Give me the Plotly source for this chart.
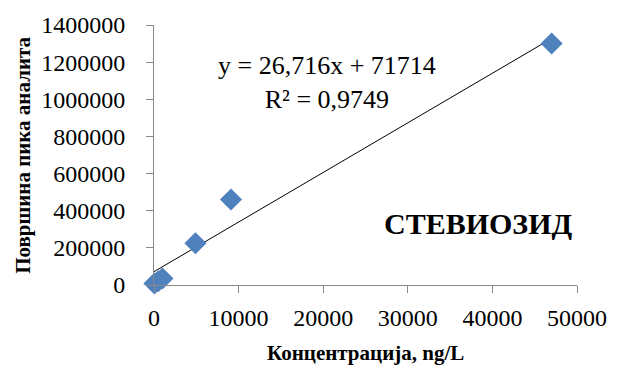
import numpy as np
import plotly.graph_objects as go

# Calibration points: concentration (ng/L) vs. analyte peak area
concentration = [50, 500, 1000, 4900, 9100, 47000]
peak_area = [8000, 20000, 35000, 225000, 460000, 1300000]

# Linear trendline coefficients
slope = 26.716
intercept = 71714
r_squared = 0.9749

x_ticks = [0, 10000, 20000, 30000, 40000, 50000]
y_ticks = [0, 200000, 400000, 600000, 800000, 1000000, 1200000, 1400000]

serif = "Liberation Serif, Times New Roman, serif"

line_x = np.array([0, max(concentration)])
line_y = slope * line_x + intercept

fig = go.Figure()
fig.add_trace(go.Scatter(
    x=line_x, y=line_y, mode="lines",
    line=dict(color="#000000", width=1), showlegend=False, hoverinfo="skip",
))
fig.add_trace(go.Scatter(
    x=concentration, y=peak_area, mode="markers", cliponaxis=False,
    marker=dict(symbol="diamond", size=17, color="#4F81BD", line=dict(width=0)),
    showlegend=False,
))

axis_common = dict(
    showgrid=False, zeroline=False, showline=True, linecolor="#898989", linewidth=1,
    ticks="outside", ticklen=7, tickcolor="#898989",
    tickfont=dict(size=24, family=serif),
)

fig.update_layout(
    width=619, height=365,
    margin=dict(l=154, r=36, t=20, b=80),
    paper_bgcolor="white", plot_bgcolor="white",
    font=dict(family=serif, color="#000000"),
    xaxis=dict(
        range=[0, 50000], tickvals=x_ticks, ticktext=[str(v) for v in x_ticks],
        ticklabelstandoff=4, **axis_common,
    ),
    yaxis=dict(
        range=[0, 1400000], tickvals=y_ticks, ticktext=[str(v) for v in y_ticks],
        ticklabelstandoff=16, **axis_common,
    ),
    annotations=[
        dict(
            x=0.5, y=-0.26, xref="paper", yref="paper", xanchor="center", yanchor="middle",
            text="<b>Концентрација, ng/L</b>", showarrow=False,
            font=dict(size=21, family=serif),
        ),
        dict(
            x=-0.31, y=0.5, xref="paper", yref="paper", xanchor="center", yanchor="middle",
            text="<b>Површина пика аналита</b>", textangle=-90, showarrow=False,
            font=dict(size=21, family=serif),
        ),
        dict(
            x=0.41, y=0.78, xref="paper", yref="paper", xanchor="center", yanchor="middle",
            text=f"y = {str(slope).replace('.', ',')}x + {intercept}<br>R² = {str(r_squared).replace('.', ',')}",
            showarrow=False, align="center", font=dict(size=26, family=serif),
        ),
        dict(
            x=0.766, y=0.235, xref="paper", yref="paper", xanchor="center", yanchor="middle",
            text="<b>СТЕВИОЗИД</b>", showarrow=False, font=dict(size=30, family=serif),
        ),
    ],
)

fig.write_html("out.html")
